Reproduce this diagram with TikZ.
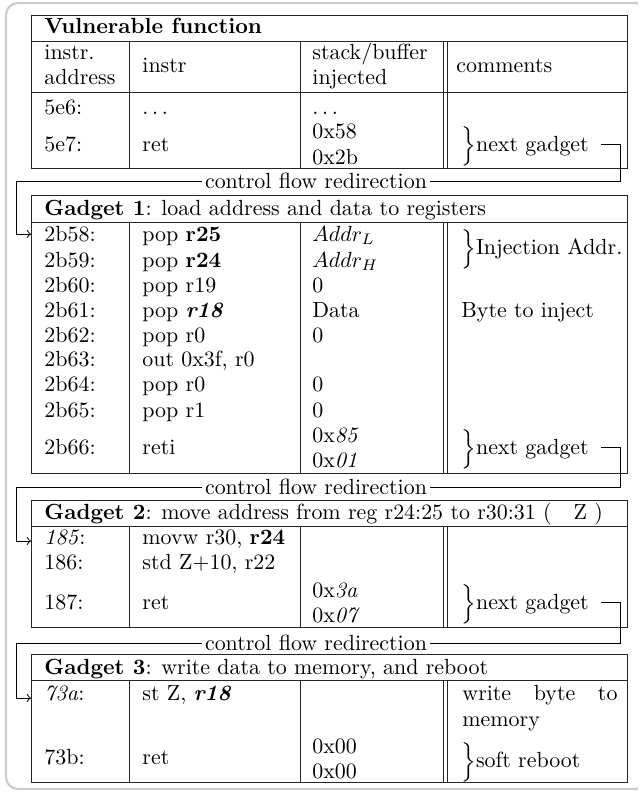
\documentclass[tikz,border=0pt]{standalone}
\usepackage{tikz}
\usetikzlibrary{arrows}
\usepackage{amsmath}

% outline of one gadget table: top, title rule, bottom
\newcommand{\gadgetbox}[3]{%
  \draw[rule] (31,#1) rectangle (627,#3);
  \draw[rule] (31,#2) -- (627,#2);
  \foreach \cx in {129,300,443,447.5}
    \draw[rule] (\cx,#2) -- (\cx,#3);
}

\begin{document}
\begin{tikzpicture}[x=0.456pt,y=-0.456pt,>=to,
  cell/.style={inner sep=0pt,anchor=west,text height=7pt,text depth=0pt},
  rule/.style={line width=0.45pt,black!85},
  flow/.style={line width=0.45pt},
  redir/.style={inner sep=1.2pt},
  frame/.style={line width=1pt,black!20,rounded corners=5.5pt}]

  \useasboundingbox (0,0) rectangle (644,792);
  \draw[frame] (638,3) -- (6,3) -- (6,789) -- (638,789);

  % tables
  \gadgetbox{15}{41}{168}
  \draw[rule] (31,92) -- (627,92);
  \gadgetbox{195}{222}{473}
  \gadgetbox{500}{526}{627}
  \gadgetbox{654}{680}{782}

  % vulnerable function
  \node[cell] (t0) at (44,26) {\textbf{Vulnerable function}};
  \node[cell] (h1) at (44,52) {instr.};
  \node[cell] (h2) at (44,77) {address};
  \node[cell] (h3) at (142,65) {instr};
  \node[cell] (h4) at (312,52) {stack/buffer};
  \node[cell] (h5) at (312,77) {injected};
  \node[cell] (h6) at (456,65) {comments};
  \node[cell] (a01) at (44,107) {5e6:};
  \node[cell] (i01) at (142,107) {$\ldots$};
  \node[cell] (s01) at (312,107) {$\ldots$};
  \node[cell] (a02) at (44,144) {5e7:};
  \node[cell] (i02) at (142,144) {ret};
  \node[cell] (s02) at (312,131) {0x58};
  \node[cell] (s03) at (312,157) {0x2b};
  \node[cell] (ng0) at (461,144) {$\Big\}$next gadget};

  % gadget 1
  \node[cell] (t1) at (44,208) {\textbf{Gadget 1}: load address and data to registers};
  \foreach \y/\ad/\ins [count=\k] in {234/2b58:/{pop \textbf{r25}},
      260/2b59:/{pop \textbf{r24}}, 285/2b60:/pop r19,
      310/2b61:/{pop \textbf{\textit{r18}}}, 335/2b62:/pop r0,
      359/2b63:/{out 0x3f, r0}, 384/2b64:/pop r0, 410/2b65:/pop r1,
      447/2b66:/reti}
  {
    \node[cell] (a1\k) at (44,\y) {\ad};
    \node[cell] (i1\k) at (142,\y) {\ins};
  }
  \foreach \y/\stk [count=\k] in {234/$Addr_L$, 260/$Addr_H$, 285/0,
      310/Data, 335/0, 384/0, 410/0, 435/0x\textit{85}, 460/0x\textit{01}}
    \node[cell] (s1\k) at (312,\y) {\stk};
  \node[cell] (c11) at (461,247) {$\Big\}$Injection Addr.};
  \node[cell] (c12) at (461,310) {Byte to inject};
  \node[cell] (ng1) at (461,447) {$\Big\}$next gadget};

  % gadget 2
  \node[cell] (t2) at (44,512) {\textbf{Gadget 2}: move address from reg r24:25 to r30:31 (\quad Z )};
  \node[cell] (a21) at (44,537) {\textit{185}:};
  \node[cell] (i21) at (142,537) {movw r30, \textbf{r24}};
  \node[cell] (a22) at (44,562) {186:};
  \node[cell] (i22) at (142,562) {std Z+10, r22};
  \node[cell] (a23) at (44,602) {187:};
  \node[cell] (i23) at (142,602) {ret};
  \node[cell] (s21) at (312,590) {0x\textit{3a}};
  \node[cell] (s22) at (312,615) {0x\textit{07}};
  \node[cell] (ng2) at (461,602) {$\Big\}$next gadget};

  % gadget 3
  \node[cell] (t3) at (44,667) {\textbf{Gadget 3}: write data to memory, and reboot};
  \node[cell] (a31) at (44,693) {\textit{73a}:};
  \node[cell] (i31) at (142,693) {st Z, \textbf{\textit{r18}}};
  \node[inner sep=0pt,anchor=north west,text width=70.7pt,align=justify]
    (c31) at (462,685) {write byte to memory};
  \node[cell] (a32) at (44,757) {73b:};
  \node[cell] (i32) at (142,757) {ret};
  \node[cell] (s31) at (312,746) {0x00};
  \node[cell] (s32) at (312,771) {0x00};
  \node[cell] (c32) at (461,760) {$\Big\}$soft reboot};

  % control flow redirection
  \node[redir] (cf1) at (316,181) {control flow redirection};
  \node[redir] (cf2) at (316,487) {control flow redirection};
  \node[redir] (cf3) at (316,643) {control flow redirection};
  \coordinate (r1) at (620,181);
  \coordinate (r2) at (620,487);
  \coordinate (r3) at (620,643);
  \coordinate (l1) at (16,181);
  \coordinate (l2) at (16,487);
  \coordinate (l3) at (16,643);
  \coordinate (e1) at (31,234);
  \coordinate (e2) at (31,541);
  \coordinate (e3) at (31,698);

  \draw[flow] ([xshift=5.5pt]ng0.east) -| (r1) -- (cf1.east);
  \draw[flow] ([xshift=5.5pt]ng1.east) -| (r2) -- (cf2.east);
  \draw[flow] ([xshift=5.5pt]ng2.east) -| (r3) -- (cf3.east);
  \draw[flow,->] (cf1.west) -- (l1) |- (e1);
  \draw[flow,->] (cf2.west) -- (l2) |- (e2);
  \draw[flow,->] (cf3.west) -- (l3) |- (e3);

\end{tikzpicture}
\end{document}
